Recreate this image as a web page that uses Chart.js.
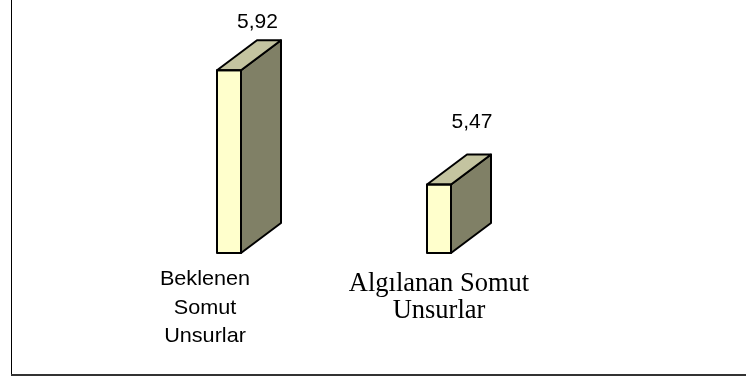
<!DOCTYPE html>
<html>
<head>
<meta charset="utf-8">
<script src="https://cdn.jsdelivr.net/npm/chart.js@4/dist/chart.umd.min.js"></script>
<style>
html,body{margin:0;padding:0;background:#fff;}
#wrap{width:746px;height:378px;position:relative;}
</style>
</head>
<body>
<div id="wrap"><canvas id="c" width="746" height="378"></canvas></div>
<script>
// ---- data ----
const categories = [['Beklenen', 'Somut', 'Unsurlar'], ['Algılanan Somut', 'Unsurlar']];
const values = [5.92, 5.47];
const valueLabels = ['5,92', '5,47'];
const axisMin = 5.2;
const axisMax = 6.0;

// ---- styles ----
const FRONT = '#FFFFCC';
const SIDE = '#808066';
const TOP = '#C4C4A0';
const DEPTH_X = 40, DEPTH_Y = 30;

const labelStyles = [
  { font: '21px "Liberation Sans", Arial, sans-serif', scaleX: 1.03, dx: -24, dy: 32, lineH: 28.5 },
  { font: '26.5px "Liberation Serif", "Times New Roman", serif', scaleX: 1.0, dx: 0, dy: 38, lineH: 27 }
];
const valueStyles = [
  { font: '21px "Liberation Sans", Arial, sans-serif', scaleX: 1.0, dx: 28.5, dy: -42 },
  { font: '21px "Liberation Sans", Arial, sans-serif', scaleX: 1.0, dx: 33, dy: -56.5 }
];

function drawText(ctx, text, x, y, font, sx) {
  ctx.save();
  ctx.font = font;
  ctx.textAlign = 'center';
  ctx.textBaseline = 'alphabetic';
  ctx.fillStyle = '#000';
  ctx.translate(x, y);
  ctx.scale(sx, 1);
  ctx.fillText(text, 0, 0);
  ctx.restore();
}

const bars3d = {
  id: 'bars3d',
  beforeDraw(chart) {
    const ctx = chart.ctx;
    ctx.save();
    ctx.fillStyle = '#fff';
    ctx.fillRect(0, 0, chart.width, chart.height);
    // frame (left + bottom visible)
    ctx.strokeStyle = '#000';
    ctx.lineWidth = 1;
    ctx.beginPath();
    ctx.moveTo(11.5, 0);
    ctx.lineTo(11.5, 375);
    ctx.stroke();
    ctx.strokeStyle = '#333';
    ctx.lineWidth = 2;
    ctx.beginPath();
    ctx.moveTo(11, 375);
    ctx.lineTo(chart.width, 375);
    ctx.stroke();
    ctx.restore();
  },
  afterDatasetsDraw(chart) {
    const ctx = chart.ctx;
    const meta = chart.getDatasetMeta(0);
    meta.data.forEach((bar, i) => {
      const p = bar.getProps(['x', 'y', 'base', 'width'], true);
      const l = p.x - p.width / 2, r = p.x + p.width / 2, t = p.y, b = p.base;
      ctx.save();
      ctx.lineJoin = 'round';
      ctx.strokeStyle = '#000';
      ctx.lineWidth = 2;
      // side face
      ctx.beginPath();
      ctx.moveTo(r, t);
      ctx.lineTo(r + DEPTH_X, t - DEPTH_Y);
      ctx.lineTo(r + DEPTH_X, b - DEPTH_Y);
      ctx.lineTo(r, b);
      ctx.closePath();
      ctx.fillStyle = SIDE;
      ctx.fill();
      ctx.stroke();
      // top face
      ctx.beginPath();
      ctx.moveTo(l, t);
      ctx.lineTo(l + DEPTH_X, t - DEPTH_Y);
      ctx.lineTo(r + DEPTH_X, t - DEPTH_Y);
      ctx.lineTo(r, t);
      ctx.closePath();
      ctx.fillStyle = TOP;
      ctx.fill();
      ctx.stroke();
      // front outline
      ctx.strokeRect(l, t, r - l, b - t);
      ctx.restore();

      // value label
      const vs = valueStyles[i];
      drawText(ctx, valueLabels[i], p.x + vs.dx, p.y + vs.dy, vs.font, vs.scaleX);

      // category label
      const ls = labelStyles[i];
      const lines = chart.data.labels[i];
      lines.forEach((line, k) => {
        drawText(ctx, line, p.x + ls.dx, b + ls.dy + k * ls.lineH, ls.font, ls.scaleX);
      });
    });
  }
};

new Chart(document.getElementById('c'), {
  type: 'bar',
  data: {
    labels: categories,
    datasets: [{
      data: values,
      backgroundColor: FRONT,
      borderWidth: 0,
      barThickness: 24,
      base: axisMin
    }]
  },
  options: {
    responsive: false,
    animation: false,
    layout: { padding: { left: 124, right: 202, top: 50, bottom: 125 } },
    plugins: { legend: { display: false }, tooltip: { enabled: false } },
    scales: {
      x: { display: false },
      y: { display: false, min: axisMin, max: axisMax }
    }
  },
  plugins: [bars3d]
});
</script>
</body>
</html>
